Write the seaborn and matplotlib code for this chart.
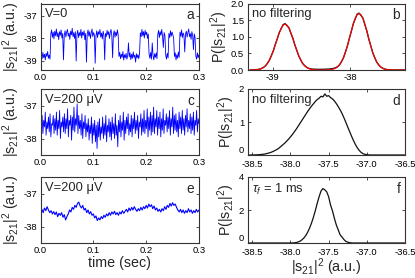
import numpy as np
import pandas as pd
import matplotlib
matplotlib.use("Agg")
import matplotlib.pyplot as plt
import seaborn as sns

# ---------------- data ----------------
# panel a: telegraph noise, V=0  (equally spaced in time 0..0.3 s)
trace_a = [
    -37.55, -38.72, -38.90, -38.62, -38.85, -38.70, -38.95, -38.66, -38.80, -38.58, -38.88, -38.74, -38.92,
    -37.80, -37.62, -37.95, -37.72, -38.02, -37.68, -37.88, -37.58, -37.92, -37.75, -38.05, -37.70, -37.86, -37.62, -37.98, -37.78,
    -38.95,
    -37.85, -37.66, -37.94, -37.72, -37.60, -37.90, -37.76, -38.04, -37.68, -37.84, -37.55, -37.92, -37.74, -38.00, -37.70,
    -39.00,
    -37.82, -37.64, -37.96, -37.74, -37.88, -37.60, -37.98, -37.72, -37.86, -37.66, -38.06, -37.78,
    -39.05,
    -37.80, -37.62, -37.90, -37.70, -38.00, -37.76, -37.58, -37.92, -37.74, -37.85,
    -39.10,
    -37.88, -37.66, -37.96, -37.70, -37.82, -37.60, -37.94, -37.76, -38.02, -37.68, -37.86,
    -38.95,
    -37.78, -37.92, -37.64, -37.84, -37.70, -38.00, -37.74, -37.60, -37.90,
    -38.85,
    -37.80, -37.66, -37.95, -37.72, -37.88, -37.62, -37.84,
    -38.80, -38.62, -38.90, -38.70, -38.84, -38.58, -38.96, -38.72, -38.86, -38.66, -38.92, -38.76, -38.20, -38.82,
    -38.64, -38.94, -38.70, -38.88, -38.60, -38.84, -38.74, -39.05, -38.68, -38.86, -38.72, -38.90, -38.66,
    -37.75, -37.92, -37.60, -37.88, -37.70, -37.98, -37.64, -37.84, -37.72, -38.00, -37.80,
    -38.70, -38.88, -38.62, -38.92, -38.20, -38.76, -38.95, -38.68, -38.84, -38.64, -38.90,
    -37.82, -37.64, -37.96, -37.70, -37.86, -37.60, -37.92, -38.40, -37.74, -37.88,
    -38.74, -38.92, -38.66, -38.86,
    -37.78, -37.96, -37.66, -37.90, -37.72, -37.84, -37.98,
    -38.80, -38.64, -38.95, -38.72, -38.88, -38.60, -38.84,
    -37.72, -37.90, -37.62, -37.96, -37.76, -37.86, -38.60, -37.80, -37.68, -37.94, -37.74, -37.58, -37.92, -37.78,
    -38.04, -37.70, -37.86, -38.50, -37.80, -37.95,
    -38.78, -38.92, -38.64, -38.86, -38.72,
]

# panel c: V=200 uV, no filtering
trace_c = [
    -37.40, -37.75, -37.30, -37.85, -37.45, -37.65, -37.20, -37.90, -37.50, -37.70,
    -37.35, -37.80, -37.25, -37.95, -37.55, -37.60, -37.30, -37.85, -37.40, -37.75,
    -37.20, -37.90, -37.45, -37.70, -37.15, -38.00, -37.50, -37.65, -37.35, -37.80,
    -37.25, -37.85, -37.40, -37.70, -37.10, -37.95, -37.45, -37.60, -37.30, -38.05,
    -37.35, -37.75, -37.05, -37.80, -37.40, -37.60, -36.95, -37.85, -37.30, -37.70,
    -37.45, -37.90, -37.25, -38.00, -37.50, -37.70, -37.30, -37.95, -37.55, -37.80,
    -37.40, -38.05, -37.60, -37.85, -37.35, -38.15, -37.55, -37.90, -37.45, -38.10,
    -37.60, -38.30, -37.50, -37.95, -37.40, -38.05, -37.65, -37.85, -37.35, -38.00,
    -37.55, -37.90, -37.30, -38.10, -37.60, -37.80, -37.40, -37.95, -37.50, -38.05,
    -37.35, -37.85, -37.55, -38.00, -37.25, -37.90, -37.60, -38.25, -37.45, -37.80,
    -37.30, -37.95, -37.50, -37.75, -37.20, -38.05, -37.45, -37.85, -37.35, -37.70,
    -37.25, -37.90, -37.55, -37.80, -37.30, -37.95, -37.40, -37.70, -37.20, -37.85,
    -37.45, -37.75, -37.30, -38.00, -37.50, -37.65, -37.25, -37.90, -37.40, -37.80,
    -37.15, -37.85, -37.45, -37.70, -37.10, -37.95, -37.35, -37.75, -37.20, -37.90,
    -37.30, -37.80, -37.05, -37.85, -37.40, -37.65, -37.15, -37.90, -37.35, -37.70,
    -37.20, -37.95, -37.40, -37.75, -37.10, -37.85, -37.45, -37.60, -37.25, -37.80,
    -37.35, -37.70, -37.15, -37.90, -37.40, -37.65, -37.05, -37.85, -37.30, -37.75,
    -37.25, -37.80, -37.45, -37.95, -37.20, -37.70, -37.35, -37.85, -37.15, -37.75,
    -37.40, -37.90, -37.30, -37.65, -37.10, -37.80, -37.45, -37.70, -37.25, -37.85,
    -37.35, -37.75, -37.20, -37.90, -37.45, -37.60, -37.15, -37.80, -37.40, -37.55,
]

# panel e: V=200 uV, filtered
trace_e = [
    -37.55, -37.48, -37.58, -37.44, -37.52, -37.40, -37.50, -37.58, -37.52, -37.62,
    -37.55, -37.64, -37.56, -37.70, -37.60, -37.66, -37.58, -37.72, -37.64, -37.80,
    -37.70, -37.62, -37.50, -37.56, -37.42, -37.48, -37.36, -37.42, -37.30, -37.26,
    -37.38, -37.44, -37.36, -37.50, -37.45, -37.58, -37.50, -37.62, -37.55, -37.66,
    -37.62, -37.74, -37.68, -37.82, -37.74, -37.80, -37.70, -37.76, -37.66, -37.72,
    -37.62, -37.68, -37.58, -37.66, -37.56, -37.62, -37.54, -37.64, -37.58, -37.66,
    -37.56, -37.62, -37.52, -37.60, -37.54, -37.48, -37.56, -37.44, -37.52, -37.42,
    -37.50, -37.40, -37.48, -37.54, -37.46, -37.52, -37.42, -37.50, -37.40, -37.46,
    -37.36, -37.44, -37.32, -37.40, -37.34, -37.46, -37.38, -37.50, -37.44, -37.54,
    -37.48, -37.56, -37.46, -37.52, -37.40, -37.48, -37.36, -37.42, -37.30, -37.38,
    -37.28, -37.36, -37.32, -37.42, -37.50, -37.56, -37.48, -37.58, -37.50, -37.60,
    -37.52, -37.58, -37.46, -37.56, -37.50, -37.60, -37.52, -37.58, -37.48, -37.56, -37.50,
]

# panel b: histogram (black) and two-gaussian fit (red), x from -39.29 to -37.29
hist_b = [
    0.002, 0.003, 0.005, 0.009, 0.015, 0.027, 0.050, 0.083, 0.128, 0.208, 0.300, 0.440, 0.580, 0.775, 0.935, 1.125, 1.245, 1.365,
    1.395,
    1.330, 1.270, 1.100, 0.955, 0.755, 0.595, 0.425, 0.310, 0.198, 0.135, 0.085, 0.052, 0.035, 0.028, 0.024, 0.022, 0.020, 0.020,
    0.021, 0.022, 0.024, 0.028, 0.032, 0.040, 0.050, 0.068, 0.102,
    0.158, 0.255, 0.368, 0.540, 0.720, 0.950, 1.155, 1.385, 1.535, 1.680,
    1.710,
    1.640, 1.560, 1.360, 1.175, 0.930, 0.735, 0.525, 0.380, 0.245, 0.163, 0.095, 0.058, 0.030, 0.017, 0.008, 0.005, 0.002, 0.001,
    0.001, 0.0, 0.0, 0.0, 0.0, 0.0,
]
fit_b = [
    0.001, 0.0015, 0.003, 0.007, 0.013, 0.025, 0.046, 0.079, 0.130, 0.203, 0.304, 0.433, 0.589, 0.765, 0.945, 1.115, 1.256, 1.348,
    1.380,
    1.348, 1.256, 1.115, 0.945, 0.765, 0.589, 0.433, 0.304, 0.203, 0.130, 0.079, 0.046, 0.025, 0.013, 0.007, 0.003, 0.0015, 0.001,
    0.001, 0.001, 0.002, 0.004, 0.008, 0.016, 0.031, 0.056, 0.097,
    0.160, 0.250, 0.374, 0.534, 0.726, 0.942, 1.165, 1.374, 1.547, 1.661,
    1.700,
    1.661, 1.547, 1.374, 1.165, 0.942, 0.726, 0.534, 0.374, 0.250, 0.160, 0.097, 0.056, 0.031, 0.016, 0.008, 0.004, 0.002, 0.001,
    0.0005, 0.0, 0.0, 0.0, 0.0, 0.0,
]

# panel d: histogram, no filtering, x from -38.55 to -36.50
hist_d = [
    0.0, 0.0, 0.0, 0.002, 0.005, 0.008, 0.012, 0.018, 0.025, 0.035,
    0.05, 0.065, 0.085, 0.11, 0.14, 0.17, 0.21, 0.26, 0.31, 0.36,
    0.42, 0.48, 0.55, 0.62, 0.70, 0.78, 0.87, 0.96, 1.05, 1.14,
    1.23, 1.32, 1.40, 1.48, 1.55, 1.62, 1.68, 1.72, 1.78, 1.76,
    1.85, 1.78, 1.80, 1.74, 1.70, 1.64, 1.56, 1.47, 1.37, 1.26,
    1.13, 0.99, 0.85, 0.71, 0.57, 0.44, 0.32, 0.22, 0.14, 0.08,
    0.04, 0.02, 0.008, 0.003, 0.0,
    0.0, 0.0, 0.0, 0.0, 0.0, 0.0, 0.0, 0.0, 0.0, 0.0, 0.0, 0.0, 0.0, 0.0, 0.0, 0.0, 0.0, 0.0,
]

# panel f: histogram, tau_f = 1 ms, x from -38.55 to -36.50
hist_f = [
    0.0, 0.0, 0.0, 0.0, 0.0, 0.0, 0.0, 0.0, 0.0, 0.0, 0.0, 0.0, 0.0, 0.0, 0.0, 0.0, 0.0, 0.0, 0.0, 0.0, 0.0, 0.0, 0.0,
    0.003, 0.01, 0.03, 0.06, 0.11, 0.19, 0.30, 0.45, 0.65, 0.90,
    1.20, 1.55, 1.95, 2.40, 2.80, 3.15, 3.30, 3.22, 3.10, 2.80,
    2.30, 1.95, 1.50, 1.10, 0.80, 0.50, 0.36, 0.21, 0.10, 0.05,
    0.02, 0.005,
    0.0, 0.0, 0.0, 0.0, 0.0, 0.0, 0.0, 0.0, 0.0, 0.0, 0.0, 0.0, 0.0, 0.0,
    0.0, 0.0, 0.0, 0.0, 0.0, 0.0, 0.0, 0.0, 0.0, 0.0, 0.0, 0.0, 0.0, 0.0,
]

time_ticks = [0.0, 0.1, 0.2, 0.3]
time_ticklabels = ["0.0", "0.1", "0.2", "0.3"]
b_ticks = [-39, -38]
df_ticks = [-38.5, -38.0, -37.5, -37.0, -36.5]
df_ticklabels = ["-38.5", "-38.0", "-37.5", "-37.0", "-36.5"]
left_texts = ["V=0", "V=200 \u03bcV", "V=200 \u03bcV"]
right_texts = ["no filtering", "no filtering", r"$\tau_f$ = 1 ms"]
letters_left = ["a", "c", "e"]
letters_right = ["b", "d", "f"]

# ---------------- style ----------------
sns.set_theme(style="ticks")
plt.rcParams.update({
    "font.family": ["Liberation Sans", "DejaVu Sans"],
    "mathtext.fontset": "custom",
    "mathtext.rm": "Liberation Sans",
    "mathtext.it": "Liberation Sans:italic",
    "mathtext.bf": "Liberation Sans:bold",
    "mathtext.sf": "Liberation Sans",
    "xtick.direction": "in",
    "ytick.direction": "in",
    "xtick.top": True,
    "ytick.right": True,
    "xtick.major.size": 2.5,
    "ytick.major.size": 2.5,
    "xtick.major.width": 0.6,
    "ytick.major.width": 0.6,
    "xtick.major.pad": 2.5,
    "ytick.major.pad": 2.5,
    "xtick.labelsize": 6.8,
    "ytick.labelsize": 6.8,
    "axes.linewidth": 0.8,
    "axes.edgecolor": "#333333",
    "xtick.color": "#333333",
    "ytick.color": "#333333",
    "xtick.labelcolor": "black",
    "ytick.labelcolor": "black",
})

W, H = 415, 278
fig = plt.figure(figsize=(W / 100, H / 100), dpi=100)

rows = [(3.5, 70.0), (89.0, 155.0), (177.0, 243.0)]
left_x = (40.5, 199.0)
right_x = (247.7, 405.0)


def make_ax(xr, yr):
    return fig.add_axes([xr[0] / W, 1 - yr[1] / H, (xr[1] - xr[0]) / W, (yr[1] - yr[0]) / H])


ylab_left = r"|s$_{21}$|$^2$ (a.u.)"
ylab_right = r"P(|s$_{21}$|$^2$)"
txt_size = 9.3
lab_size = 10.3

traces = [trace_a, trace_c, trace_e]
ylims_left = [(-39.4, -36.45), (-38.5, -36.5), (-38.5, -36.5)]
yticks_left = [[-39, -38, -37], [-38, -37], [-38, -37]]
lws = [0.6, 0.6, 0.8]

for k in range(3):
    ax = make_ax(left_x, rows[k])
    tr = traces[k]
    df = pd.DataFrame({"t": np.linspace(0.0, 0.3, len(tr)), "s": tr})
    sns.lineplot(data=df, x="t", y="s", ax=ax, color="#0000ff", lw=lws[k],
                 estimator=None, sort=False)
    ax.set_xlim(0, 0.3)
    ax.set_ylim(*ylims_left[k])
    ax.set_xticks(time_ticks)
    ax.set_xticklabels(time_ticklabels)
    ax.set_yticks(yticks_left[k])
    ax.set_yticklabels([str(v) for v in yticks_left[k]])
    ax.set_ylabel(ylab_left, fontsize=lab_size, labelpad=1)
    ax.set_xlabel("")
    ax.text(0.03, 0.93, left_texts[k], transform=ax.transAxes, ha="left", va="top", fontsize=txt_size)
    ax.text(0.97, 0.93, letters_left[k], transform=ax.transAxes, ha="right", va="top", fontsize=txt_size + 0.5)
    if k == 2:
        ax.set_xlabel("time (sec)", fontsize=lab_size, labelpad=0.5)

# right column
ax = make_ax(right_x, rows[0])
xb = np.linspace(-39.29, -37.29, len(hist_b))
xfb = np.linspace(-39.29, -37.29, len(fit_b))
sns.lineplot(x=xb, y=hist_b, ax=ax, color="#222222", lw=1.0, estimator=None, sort=False)
sns.lineplot(x=xfb, y=fit_b, ax=ax, color="#ff0000", lw=0.8, estimator=None, sort=False)
ax.set_xlim(-39.32, -37.3)
ax.set_ylim(0, 2)
ax.set_xticks(b_ticks)
ax.set_xticklabels([str(v) for v in b_ticks])
ax.set_yticks([0.0, 0.5, 1.0, 1.5, 2.0])
ax.set_yticklabels(["0.0", "0.5", "1.0", "1.5", "2.0"])

ax_d = make_ax(right_x, rows[1])
xd = np.linspace(-38.55, -36.5, len(hist_d))
sns.lineplot(x=xd, y=hist_d, ax=ax_d, color="#111111", lw=0.9, estimator=None, sort=False)
ax_d.set_ylim(0, 2)
ax_d.set_yticks([0, 1, 2])
ax_d.set_yticklabels(["0", "1", "2"])

ax_f = make_ax(right_x, rows[2])
xf = np.linspace(-38.55, -36.5, len(hist_f))
sns.lineplot(x=xf, y=hist_f, ax=ax_f, color="#111111", lw=0.9, estimator=None, sort=False)
ax_f.set_ylim(0, 4)
ax_f.set_yticks([0, 2, 4])
ax_f.set_yticklabels(["0", "2", "4"])

for a2 in (ax_d, ax_f):
    a2.set_xlim(-38.56, -36.5)
    a2.set_xticks(df_ticks)
    a2.set_xticklabels(df_ticklabels)
    a2.tick_params(axis="x", pad=3.5)
    # lift the "0" y label slightly so it clears the first x label
    a2.get_yticklabels()[0].set_va("bottom")

for k, a2 in enumerate([ax, ax_d, ax_f]):
    a2.set_ylabel(ylab_right, fontsize=lab_size, labelpad=1)
    a2.set_xlabel("")
    a2.text(0.03, 0.93, right_texts[k], transform=a2.transAxes, ha="left", va="top", fontsize=txt_size)
    a2.text(0.97, 0.93, letters_right[k], transform=a2.transAxes, ha="right", va="top", fontsize=txt_size + 0.5)
ax_f.set_xlabel(r"|s$_{21}$|$^2$ (a.u.)", fontsize=lab_size, labelpad=0)

fig.savefig("out.png", dpi=100)
